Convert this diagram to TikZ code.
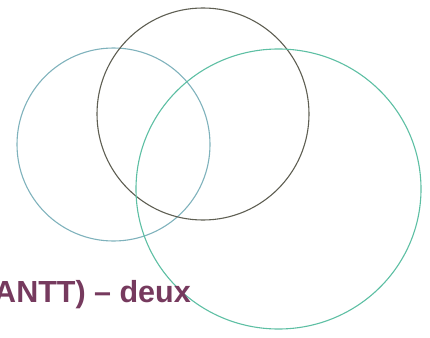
\documentclass[tikz,border=0pt]{standalone}
\usepackage{fontspec}
\setmainfont{Liberation Sans}
\usepackage{tikz}
\usetikzlibrary{shapes.geometric}
\usepackage{xcolor}
\definecolor{ringblue}{HTML}{7FB2BC}
\definecolor{ringgrey}{HTML}{5E5E52}
\definecolor{ringgreen}{HTML}{5DBFA3}
\definecolor{titleplum}{HTML}{763A5E}

\begin{document}
\begin{tikzpicture}[
  x=1pt, y=-1pt,
  ring/.style={draw, circle, line width=1.1pt, inner sep=0pt, outer sep=0pt},
  oval/.style={draw, ellipse, line width=1.1pt, inner sep=0pt, outer sep=0pt},
  title/.style={font=\bfseries\fontsize{30.5}{35}\selectfont, text=titleplum,
                inner sep=0pt, anchor=base east}
]
\useasboundingbox (0,0) rectangle (430,337);
\clip (0,0) rectangle (430,337);
\node[ring, ringblue, minimum size=193pt] (left) at (113.5,144.5) {};
\node[ring, ringgrey, minimum size=212pt] (top) at (203,114) {};
\node[oval, ringgreen, minimum width=285pt, minimum height=280pt] (right) at (278.5,189) {};
\node[title] (caption) at (191,302) {ANTT) – deux};
\end{tikzpicture}
\end{document}
